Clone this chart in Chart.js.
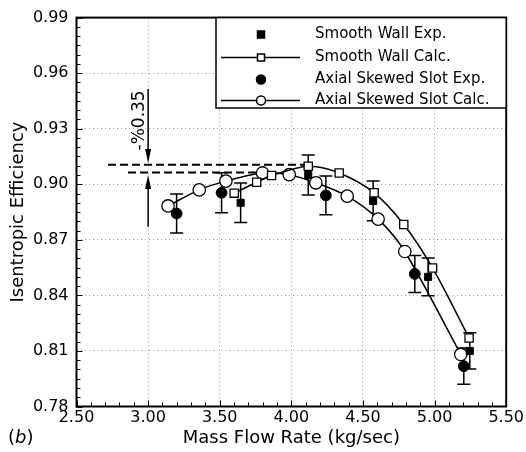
<!DOCTYPE html>
<html>
<head>
<meta charset="utf-8">
<script src="https://cdn.jsdelivr.net/npm/chart.js@4.4.1/dist/chart.umd.min.js"></script>
<style>
  html, body { margin: 0; padding: 0; background: #fff; }
  #chart { display: block; }
</style>
</head>
<body>
<canvas id="chart" width="526" height="452"></canvas>
<script>
// values
const smoothExpX = [3.646, 4.118, 4.571, 4.955, 5.246];
const smoothExpY = [0.890, 0.905, 0.891, 0.850, 0.810];
const smoothExpErr = [0.0107, 0.0108, 0.0107, 0.0102, 0.0098];

const smoothCalcX = [3.601, 3.758, 3.862, 4.118, 4.334, 4.578, 4.785, 4.986, 5.241];
const smoothCalcY = [0.8952, 0.9011, 0.9047, 0.9097, 0.9061, 0.8954, 0.8783, 0.8548, 0.8170];

const slotExpX = [3.199, 3.513, 4.241, 4.862, 5.204];
const slotExpY = [0.8842, 0.8954, 0.8940, 0.8516, 0.8018];
const slotExpErr = [0.0105, 0.0108, 0.0105, 0.0100, 0.0098];

const slotCalcX = [3.139, 3.357, 3.543, 3.799, 3.985, 4.171, 4.390, 4.606, 4.792, 5.183];
const slotCalcY = [0.8883, 0.8970, 0.9017, 0.9061, 0.9052, 0.9008, 0.8936, 0.8812, 0.8637, 0.8081];

// dashed reference levels and the -0.35% arrows
const refUpperX = [2.72, 4.118];
const refUpperY = [0.9106, 0.9106];
const refLowerX = [2.86, 3.80];
const refLowerY = [0.9064, 0.9064];
const arrowX = 3.0;
const downArrow = [0.9514, 0.9115];   // from, tip
const upArrow = [0.8770, 0.9050];     // from, tip
const annotation = '-%0.35';

const xTickVals = [2.5, 3.0, 3.5, 4.0, 4.5, 5.0, 5.5];
const yTickVals = [0.78, 0.81, 0.84, 0.87, 0.90, 0.93, 0.96, 0.99];

const legendLabels = ['Smooth Wall Exp.', 'Smooth Wall Calc.', 'Axial Skewed Slot Exp.', 'Axial Skewed Slot Calc.'];

const pts = (xs, ys) => xs.map((v, i) => ({ x: v, y: ys[i] }));

Chart.defaults.font.family = "'DejaVu Sans', sans-serif";
Chart.defaults.color = '#000';

const extras = {
  id: 'extras',
  beforeDatasetsDraw(chart) {
    const { ctx, scales: { x, y } } = chart;
    ctx.save();
    ctx.strokeStyle = '#000';
    ctx.lineWidth = 1.5;
    const bars = [[smoothExpX, smoothExpY, smoothExpErr], [slotExpX, slotExpY, slotExpErr]];
    bars.forEach(([xs, ys, es]) => xs.forEach((v, i) => {
      const px = x.getPixelForValue(v);
      const top = y.getPixelForValue(ys[i] + es[i]);
      const bot = y.getPixelForValue(ys[i] - es[i]);
      ctx.beginPath();
      ctx.moveTo(px, top); ctx.lineTo(px, bot);
      ctx.moveTo(px - 6.5, top); ctx.lineTo(px + 6.5, top);
      ctx.moveTo(px - 6.5, bot); ctx.lineTo(px + 6.5, bot);
      ctx.stroke();
    }));
    ctx.restore();
  },
  afterDraw(chart) {
    const { ctx, chartArea: a, scales: { x, y } } = chart;
    ctx.save();

    // minor / major ticks pointing inwards
    ctx.strokeStyle = '#000';
    ctx.lineWidth = 1;
    ctx.beginPath();
    for (let i = 0; i <= 42; i++) {
      const py = Math.round(y.getPixelForValue(0.78 + i * 0.005)) + 0.5;
      const len = i % 6 === 0 ? 6 : 4;
      ctx.moveTo(a.left, py); ctx.lineTo(a.left + len, py);
    }
    for (let i = 0; i <= 30; i++) {
      const px = Math.round(x.getPixelForValue(2.5 + i * 0.1)) + 0.5;
      const len = i % 5 === 0 ? 6 : 4;
      ctx.moveTo(px, a.bottom); ctx.lineTo(px, a.bottom - len);
    }
    ctx.stroke();

    // frame
    ctx.lineWidth = 2;
    ctx.strokeRect(a.left, a.top, a.right - a.left, a.bottom - a.top);

    // arrows
    const ax = x.getPixelForValue(arrowX);
    const arrow = (from, tip) => {
      const p0 = y.getPixelForValue(from);
      const p1 = y.getPixelForValue(tip);
      const dir = p1 > p0 ? 1 : -1;
      ctx.lineWidth = 1.5;
      ctx.beginPath();
      ctx.moveTo(ax, p0); ctx.lineTo(ax, p1 - dir * 10);
      ctx.stroke();
      ctx.beginPath();
      ctx.moveTo(ax, p1);
      ctx.lineTo(ax - 3, p1 - dir * 14);
      ctx.lineTo(ax + 3, p1 - dir * 14);
      ctx.closePath();
      ctx.fill();
    };
    arrow(downArrow[0], downArrow[1]);
    arrow(upArrow[0], upArrow[1]);

    // rotated annotation
    ctx.save();
    ctx.translate(ax - 9, y.getPixelForValue(0.9345));
    ctx.rotate(-Math.PI / 2);
    ctx.font = "17px 'DejaVu Sans'";
    ctx.fillStyle = '#000';
    ctx.textAlign = 'center';
    ctx.textBaseline = 'middle';
    ctx.fillText(annotation, 0, 0);
    ctx.restore();

    // legend box
    const lg = { left: 216, top: a.top, right: a.right, bottom: 108 };
    ctx.fillStyle = '#fff';
    ctx.fillRect(lg.left, lg.top, lg.right - lg.left, lg.bottom - lg.top);
    ctx.lineWidth = 1.5;
    ctx.strokeStyle = '#000';
    ctx.strokeRect(lg.left, lg.top, lg.right - lg.left, lg.bottom - lg.top);
    const rows = [34, 57, 79, 100];
    const mx = 261;
    ctx.font = "15px 'DejaVu Sans'";
    ctx.textAlign = 'left';
    ctx.textBaseline = 'middle';
    legendLabels.forEach((t, i) => {
      const ry = Math.round(rows[i]) + 0.5;
      ctx.fillStyle = '#000';
      ctx.fillText(t, 315, ry);
      ctx.lineWidth = 1.5;
      if (i === 1 || i === 3) {
        ctx.beginPath();
        ctx.moveTo(221, ry); ctx.lineTo(300, ry);
        ctx.stroke();
      }
      ctx.beginPath();
      if (i === 0 || i === 1) ctx.rect(mx - 3.5, ry - 3.5, 7, 7);
      else ctx.arc(mx, ry, 4.5, 0, Math.PI * 2);
      ctx.fillStyle = (i === 0 || i === 2) ? '#000' : '#fff';
      ctx.fill();
      ctx.stroke();
    });

    // panel label
    ctx.fillStyle = '#000';
    ctx.textBaseline = 'middle';
    ctx.font = "18px 'DejaVu Sans'";
    ctx.fillText('(', 8, 438);
    const w1 = ctx.measureText('(').width;
    ctx.font = "italic 18px 'DejaVu Sans'";
    ctx.fillText('b', 8 + w1, 438);
    const w2 = ctx.measureText('b').width;
    ctx.font = "18px 'DejaVu Sans'";
    ctx.fillText(')', 8 + w1 + w2, 438);

    ctx.restore();
  }
};

new Chart(document.getElementById('chart'), {
  type: 'scatter',
  data: {
    datasets: [
      {
        label: legendLabels[0],
        data: pts(smoothExpX, smoothExpY),
        pointStyle: 'rect',
        pointRadius: 5,
        backgroundColor: '#000',
        borderColor: '#000',
        pointBorderWidth: 1
      },
      {
        label: legendLabels[2],
        data: pts(slotExpX, slotExpY),
        pointStyle: 'circle',
        pointRadius: 5.4,
        backgroundColor: '#000',
        borderColor: '#000',
        pointBorderWidth: 1
      },
      {
        label: legendLabels[1],
        data: pts(smoothCalcX, smoothCalcY),
        showLine: true,
        tension: 0.3,
        borderWidth: 1.5,
        pointStyle: 'rect',
        pointRadius: 5.8,
        pointBorderWidth: 1.3,
        backgroundColor: '#fff',
        borderColor: '#000'
      },
      {
        label: legendLabels[3],
        data: pts(slotCalcX, slotCalcY),
        showLine: true,
        tension: 0.3,
        borderWidth: 1.5,
        pointStyle: 'circle',
        pointRadius: 6.2,
        pointBorderWidth: 1.3,
        backgroundColor: '#fff',
        borderColor: '#000'
      },
      {
        label: 'upper level',
        data: pts(refUpperX, refUpperY),
        showLine: true,
        borderDash: [8, 4],
        borderWidth: 2,
        borderColor: '#000',
        pointRadius: 0
      },
      {
        label: 'lower level',
        data: pts(refLowerX, refLowerY),
        showLine: true,
        borderDash: [8, 4],
        borderWidth: 2,
        borderColor: '#000',
        pointRadius: 0
      }
    ]
  },
  options: {
    responsive: false,
    animation: false,
    layout: { padding: { left: 0, right: 19.5, top: 14, bottom: 0 } },
    plugins: {
      legend: { display: false },
      tooltip: { enabled: false }
    },
    scales: {
      x: {
        type: 'linear',
        min: 2.5,
        max: 5.5,
        afterBuildTicks: s => { s.ticks = xTickVals.map(v => ({ value: v })); },
        afterFit: s => { s.height = 45.5; },
        ticks: {
          font: { size: 16 },
          padding: 2,
          maxRotation: 0,
          callback: v => v.toFixed(2)
        },
        grid: { color: '#9a9a9a', lineWidth: 1, drawTicks: false },
        border: { display: false, dash: [1, 3] },
        title: {
          display: true,
          text: 'Mass Flow Rate (kg/sec)',
          font: { size: 18 },
          padding: { top: 0, bottom: 3 }
        }
      },
      y: {
        type: 'linear',
        min: 0.78,
        max: 0.99,
        afterBuildTicks: s => { s.ticks = yTickVals.map(v => ({ value: v })); },
        afterFit: s => { s.width = 76.5; },
        ticks: {
          font: { size: 16 },
          padding: 8,
          callback: v => v.toFixed(2)
        },
        grid: { color: '#9a9a9a', lineWidth: 1, drawTicks: false },
        border: { display: false, dash: [1, 3] },
        title: {
          display: true,
          text: 'Isentropic Efficiency',
          font: { size: 18 },
          padding: { top: 8, bottom: 0 }
        }
      }
    }
  },
  plugins: [extras]
});
</script>
</body>
</html>
